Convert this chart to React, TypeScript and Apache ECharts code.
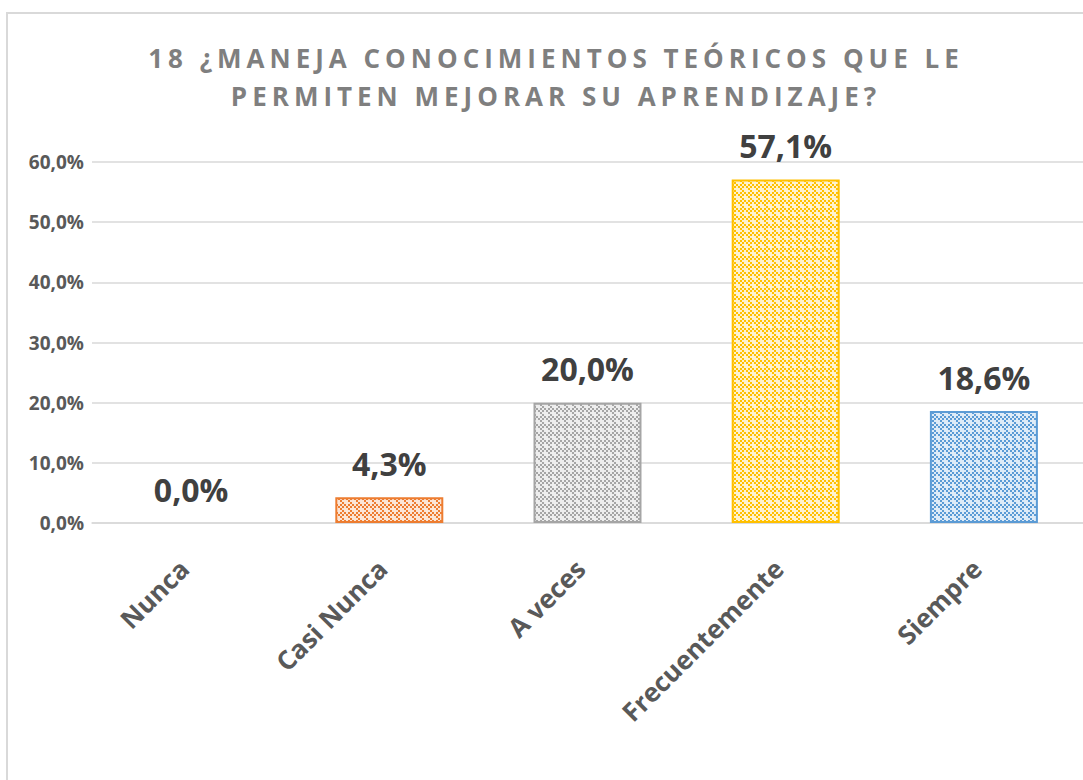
import React, { useEffect, useRef } from "react";
import * as echarts from "echarts";

const titleLines = ["18 ¿MANEJA CONOCIMIENTOS TEÓRICOS QUE LE", "PERMITEN MEJORAR SU APRENDIZAJE?"];
const categories = ["Nunca", "Casi Nunca", "A veces", "Frecuentemente", "Siempre"];
const values = [0.0, 4.3, 20.0, 57.1, 18.6];
const borderColors = ["#4472C4", "#ED7D31", "#A5A5A5", "#FFC000", "#5B9BD5"];
const fillColors = ["#DAE3F3", "#FBE5D6", "#EDEDED", "#FFF2CC", "#DEEBF7"];
const yMin = 0;
const yMax = 60;
const yInterval = 10;

const fmt = (v: number) => v.toFixed(1).replace(".", ",") + "%";

function makePattern(bg: string, fg: string) {
  const cells = 4;
  const cell = 2;
  const size = cells * cell;
  const c = document.createElement("canvas");
  c.width = size;
  c.height = size;
  const ctx = c.getContext("2d")!;
  ctx.fillStyle = bg;
  ctx.fillRect(0, 0, size, size);
  ctx.fillStyle = fg;
  for (let r = 0; r < cells; r++) {
    for (let col = 0; col < cells; col++) {
      const d = (col - r + cells) % cells;
      if (d === 0 || (d === 2 && r < 2)) ctx.fillRect(col * cell, r * cell, cell, cell);
    }
  }
  return { image: c, repeat: "repeat", imageWidth: size, imageHeight: size } as any;
}

export default function App() {
  const ref = useRef<HTMLDivElement>(null);
  useEffect(() => {
    if (!ref.current) return;
    const chart = echarts.init(ref.current, null, { renderer: "svg" });
    const data = values.map((v, i) => ({
      value: v,
      itemStyle: {
        color: makePattern(fillColors[i], borderColors[i]),
        borderColor: borderColors[i],
        borderWidth: v > 0 ? 2 : 0,
        opacity: v > 0 ? 1 : 0,
      },
    }));
    chart.setOption({
      animation: false,
      backgroundColor: "#ffffff",
      title: {
        text: titleLines.join("\n"),
        left: 551,
        top: 34,
        textAlign: "center",
        textStyle: {
          fontFamily: "Open Sans",
          fontWeight: "bold",
          fontSize: 26,
          lineHeight: 38,
          color: "#7F7F7F",
        },
      },
      graphic: [
        {
          type: "rect",
          shape: { x: 7, y: 13, width: 2000, height: 2000 },
          style: { fill: "none", stroke: "#D9D9D9", lineWidth: 2 },
          silent: true,
          z: -1,
        },
      ],
      grid: { left: 92, top: 162, width: 993, height: 361, containLabel: false },
      xAxis: {
        type: "category",
        data: categories,
        axisLine: { lineStyle: { color: "#D9D9D9", width: 1.5 } },
        axisTick: { show: false },
        axisLabel: {
          rotate: 45,
          margin: 34,
          padding: [0, 10, 0, 0],
          fontFamily: "Open Sans",
          fontWeight: "bold",
          fontSize: 26,
          color: "#595959",
          interval: 0,
        },
      },
      yAxis: {
        type: "value",
        min: yMin,
        max: yMax,
        interval: yInterval,
        axisLine: { show: false },
        axisTick: { show: false },
        splitLine: { lineStyle: { color: "#D9D9D9", width: 1.5 } },
        axisLabel: {
          formatter: (v: number) => fmt(v),
          margin: 8,
          fontFamily: "Open Sans",
          fontWeight: "bold",
          fontSize: 19,
          color: "#595959",
        },
      },
      series: [
        {
          type: "bar",
          data,
          barWidth: 108,
          label: {
            show: true,
            position: "top",
            distance: 18,
            formatter: (p: any) => fmt(p.value),
            fontFamily: "Open Sans",
            fontWeight: "bold",
            fontSize: 32,
            color: "#404040",
            opacity: 1,
          },
        },
      ],
    });
    const applySpacing = () => {
      const el = ref.current;
      if (!el) return;
      el.querySelectorAll("text").forEach((t) => {
        const s = (t.textContent || "").trim();
        if (titleLines.includes(s)) {
          t.setAttribute("letter-spacing", "5");
        }
      });
    };
    chart.on("finished", applySpacing);
    applySpacing();
    const tm = setTimeout(applySpacing, 50);
    return () => {
      clearTimeout(tm);
      chart.dispose();
    };
  }, []);
  return (
    <div
      ref={ref}
      style={{ position: "absolute", left: 0, top: 0, width: 1083, height: 780, overflow: "hidden" }}
    />
  );
}
